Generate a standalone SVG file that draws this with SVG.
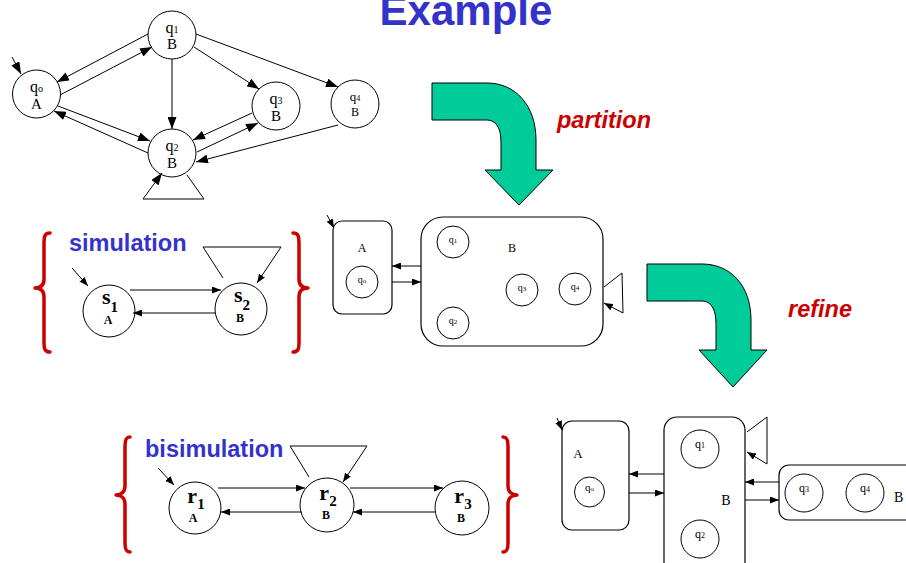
<svg xmlns="http://www.w3.org/2000/svg" width="906" height="563" viewBox="0 0 906 563">
  <defs>
    <style>
      .st { fill: #fff; stroke: #000; stroke-width: 1; }
      .box { fill: #fff; stroke: #000; stroke-width: 1.2; }
      .edge { fill: none; stroke: #000; stroke-width: 1; }
      .edge-b { fill: none; stroke: #000; stroke-width: 1; marker-end: url(#ahb); }
      .edge-s { fill: none; stroke: #000; stroke-width: 1; marker-end: url(#ahs); }
      .serif { font-family: "Liberation Serif", "Times New Roman", serif; fill: #000; }
      .sans { font-family: "Liberation Sans", Arial, sans-serif; font-weight: bold; }
      .blue { fill: #3333cc; }
      .red { fill: #cc0000; font-style: italic; }
      .brace { fill: none; stroke: #cc0000; stroke-width: 3.5; stroke-linecap: round; stroke-linejoin: round; }
      .bend { fill: #00cc99; stroke: #000; stroke-width: 1; }
    </style>
    <marker id="ahb" markerWidth="12" markerHeight="9" refX="12" refY="4.5" orient="auto" markerUnits="userSpaceOnUse">
      <path d="M0,0 L12,4.5 L0,9 z" fill="#000"/>
    </marker>
    <marker id="ahs" markerWidth="9" markerHeight="7" refX="9" refY="3.5" orient="auto" markerUnits="userSpaceOnUse">
      <path d="M0,0 L9,3.5 L0,7 z" fill="#000"/>
    </marker>
  </defs>

  <rect width="906" height="563" fill="#fff"/>

  <!-- title -->
  <text x="466" y="25" text-anchor="middle" class="sans blue" font-size="42">Example</text>

  <!-- original transition system -->
  <g id="q0">
    <circle class="st" cx="36.5" cy="94" r="24"/>
    <text x="36.5" y="92" text-anchor="middle" class="serif" font-size="16">q<tspan font-size="10">o</tspan></text>
    <text x="36.5" y="109" text-anchor="middle" class="serif" font-size="15">A</text>
  </g>
  <g id="q1">
    <circle class="st" cx="172" cy="35" r="24"/>
    <text x="172" y="33" text-anchor="middle" class="serif" font-size="16">q<tspan font-size="10">1</tspan></text>
    <text x="172" y="49" text-anchor="middle" class="serif" font-size="15">B</text>
  </g>
  <g id="q2">
    <circle class="st" cx="172" cy="153" r="24"/>
    <text x="172" y="151" text-anchor="middle" class="serif" font-size="16">q<tspan font-size="10">2</tspan></text>
    <text x="172" y="168" text-anchor="middle" class="serif" font-size="15">B</text>
  </g>
  <g id="q3">
    <circle class="st" cx="276" cy="106" r="24"/>
    <text x="276" y="104" text-anchor="middle" class="serif" font-size="16">q<tspan font-size="10">3</tspan></text>
    <text x="276" y="121" text-anchor="middle" class="serif" font-size="15">B</text>
  </g>
  <g id="q4">
    <circle class="st" cx="355" cy="104" r="24"/>
    <text x="355" y="101" text-anchor="middle" class="serif" font-size="13">q<tspan font-size="8">4</tspan></text>
    <text x="355" y="116" text-anchor="middle" class="serif" font-size="12">B</text>
  </g>

  <!-- partition arrow -->
  <g id="partition-arrow">
    <path class="bend" d="M432,83 L487,83 C515,83 536,105 536,140 L536,170 L553,170 L519,205 L485,170 L501,170 L501,142 C501,128 496,120 487,120 L432,120 Z"/>
    <text x="557" y="128" class="sans red" font-size="23.5">partition</text>
  </g>

  <!-- simulation -->
  <g id="simulation">
    <path class="brace" d="M50,233 C45,233 44,236 44,242 L44,279 C44,285 41,288 35,288 C41,288 44,291 44,297 L44,343 C44,349 45,352 50,352"/>
    <path class="brace" d="M293,233 C298,233 299,236 299,242 L299,279 C299,285 302,288 308,288 C302,288 299,291 299,297 L299,343 C299,349 298,352 293,352"/>
    <text x="69" y="251" class="sans blue" font-size="23.5">simulation</text>
  </g>
  <g id="s1">
    <circle class="st" cx="109" cy="311" r="26"/>
    <text x="110" y="304" text-anchor="middle" class="serif" font-weight="bold" font-size="22">s<tspan font-size="15" dy="8">1</tspan></text>
    <text x="108" y="324" text-anchor="middle" class="serif" font-weight="bold" font-size="12">A</text>
  </g>
  <g id="s2">
    <circle class="st" cx="241" cy="309" r="26"/>
    <text x="242" y="302" text-anchor="middle" class="serif" font-weight="bold" font-size="22">s<tspan font-size="15" dy="8">2</tspan></text>
    <text x="240" y="322" text-anchor="middle" class="serif" font-weight="bold" font-size="12">B</text>
  </g>

  <!-- partitioned system -->
  <g id="blockA">
    <rect class="box" x="333" y="221" width="59" height="93" rx="9"/>
    <text x="362" y="252" text-anchor="middle" class="serif" font-size="12">A</text>
    <circle class="st" cx="362" cy="282" r="16"/>
    <text x="362" y="283" text-anchor="middle" class="serif" font-size="10">q<tspan font-size="7">o</tspan></text>
  </g>
  <g id="blockB">
    <rect class="box" x="421" y="217" width="182" height="129" rx="22"/>
    <text x="512" y="252" text-anchor="middle" class="serif" font-size="12">B</text>
    <circle class="st" cx="453" cy="242" r="16"/>
    <text x="453" y="243" text-anchor="middle" class="serif" font-size="10">q<tspan font-size="7">1</tspan></text>
    <circle class="st" cx="453" cy="323" r="16"/>
    <text x="453" y="324" text-anchor="middle" class="serif" font-size="10">q<tspan font-size="7">2</tspan></text>
    <circle class="st" cx="522" cy="290" r="16"/>
    <text x="522" y="291" text-anchor="middle" class="serif" font-size="10">q<tspan font-size="7">3</tspan></text>
    <circle class="st" cx="575" cy="289" r="16"/>
    <text x="575" y="290" text-anchor="middle" class="serif" font-size="10">q<tspan font-size="7">4</tspan></text>
  </g>

  <!-- refine arrow -->
  <g id="refine-arrow">
    <path class="bend" d="M647,264 L702,264 C730,264 751,285 751,320 L751,350 L767,350 L733,387 L699,350 L716,350 L716,324 C716,309 711,301 702,301 L647,301 Z"/>
    <text x="788" y="317" class="sans red" font-size="23.5">refine</text>
  </g>

  <!-- bisimulation -->
  <g id="bisimulation">
    <path class="brace" d="M130,437 C126,437 125,440 125,446 L125,486 C125,492 121,495 116,495 C121,495 125,498 125,504 L125,543 C125,549 126,552 130,552"/>
    <path class="brace" d="M503,437 C507,437 508,440 508,446 L508,486 C508,492 512,495 517,495 C512,495 508,498 508,504 L508,543 C508,549 507,552 503,552"/>
    <text x="145" y="457" class="sans blue" font-size="23.5">bisimulation</text>
  </g>
  <g id="r1">
    <circle class="st" cx="195" cy="508" r="26"/>
    <text x="196" y="503" text-anchor="middle" class="serif" font-weight="bold" font-size="22">r<tspan font-size="15" dy="6">1</tspan></text>
    <text x="193" y="522" text-anchor="middle" class="serif" font-weight="bold" font-size="12">A</text>
  </g>
  <g id="r2">
    <circle class="st" cx="327" cy="505" r="27"/>
    <text x="328" y="500" text-anchor="middle" class="serif" font-weight="bold" font-size="22">r<tspan font-size="15" dy="6">2</tspan></text>
    <text x="326" y="519" text-anchor="middle" class="serif" font-weight="bold" font-size="12">B</text>
  </g>
  <g id="r3">
    <circle class="st" cx="462" cy="508" r="27"/>
    <text x="463" y="503" text-anchor="middle" class="serif" font-weight="bold" font-size="22">r<tspan font-size="15" dy="6">3</tspan></text>
    <text x="461" y="522" text-anchor="middle" class="serif" font-weight="bold" font-size="12">B</text>
  </g>

  <!-- refined system -->
  <g id="refA">
    <rect class="box" x="562" y="421" width="67" height="109" rx="10"/>
    <text x="578" y="458" text-anchor="middle" class="serif" font-size="13">A</text>
    <circle class="st" cx="589.5" cy="492" r="15"/>
    <text x="589.5" y="491" text-anchor="middle" class="serif" font-size="11">q<tspan font-size="7">o</tspan></text>
  </g>
  <g id="refB1">
    <rect class="box" x="664" y="417" width="81" height="160" rx="13"/>
    <text x="726" y="505" text-anchor="middle" class="serif" font-size="14">B</text>
    <circle class="st" cx="700" cy="449" r="19"/>
    <text x="700" y="448" text-anchor="middle" class="serif" font-size="12">q<tspan font-size="8">1</tspan></text>
    <circle class="st" cx="700" cy="539" r="19"/>
    <text x="700" y="538" text-anchor="middle" class="serif" font-size="12">q<tspan font-size="8">2</tspan></text>
  </g>
  <g id="refB2">
    <rect class="box" x="779" y="465" width="140" height="55" rx="10"/>
    <circle class="st" cx="804" cy="493" r="19"/>
    <text x="804" y="492" text-anchor="middle" class="serif" font-size="12">q<tspan font-size="8">3</tspan></text>
    <circle class="st" cx="865" cy="493" r="19"/>
    <text x="865" y="492" text-anchor="middle" class="serif" font-size="12">q<tspan font-size="8">4</tspan></text>
    <text x="894" y="502" class="serif" font-size="14">B</text>
  </g>

  <!-- transitions -->
  <g id="connectors">
    <!-- original system -->
    <path class="edge-b" d="M12,57 L21,74"/>
    <path class="edge-b" d="M148,34 L57,82"/>
    <path class="edge-b" d="M60,95 L152,47"/>
    <path class="edge-b" d="M172,59 L172,129"/>
    <path class="edge-b" d="M194,47 L259,89"/>
    <path class="edge-b" d="M196,34 L338,87"/>
    <path class="edge-b" d="M58,106 L150,141"/>
    <path class="edge-b" d="M148,153 L54,111"/>
    <path class="edge-b" d="M252,113 L193,140"/>
    <path class="edge-b" d="M197,152 L258,123"/>
    <path class="edge-b" d="M338,125 L196,162"/>
    <path class="edge-b" d="M187,175 L204,199 L143,199 L162,173"/>

    <!-- simulation -->
    <path class="edge-s" d="M72,268 L88,286"/>
    <path class="edge-s" d="M130,290 L221,290"/>
    <path class="edge-s" d="M215,313 L133,313"/>
    <path class="edge-s" d="M223,278 L203,247 L281,247 L257,283"/>

    <!-- partitioned system -->
    <path class="edge-s" d="M327,215 L334,228"/>
    <path class="edge-s" d="M421,266 L392,266"/>
    <path class="edge-s" d="M392,282 L421,282"/>
    <path class="edge-s" d="M604,287 L622,273 L623,313 L604,303"/>

    <!-- bisimulation -->
    <path class="edge-s" d="M158,468 L174,485"/>
    <path class="edge-s" d="M218,488 L305,488"/>
    <path class="edge-s" d="M302,512 L221,512"/>
    <path class="edge-s" d="M350,488 L443,488"/>
    <path class="edge-s" d="M435,512 L353,512"/>
    <path class="edge-s" d="M309,477 L290,446 L367,446 L343,482"/>

    <!-- refined system -->
    <path class="edge-s" d="M557,418 L562,430"/>
    <path class="edge-s" d="M664,474 L629,474"/>
    <path class="edge-s" d="M629,493 L664,493"/>
    <path class="edge-s" d="M747,432 L767,417 L767,464 L747,452"/>
    <path class="edge-s" d="M779,482 L745,482"/>
    <path class="edge-s" d="M745,500 L779,500"/>
  </g>
</svg>
